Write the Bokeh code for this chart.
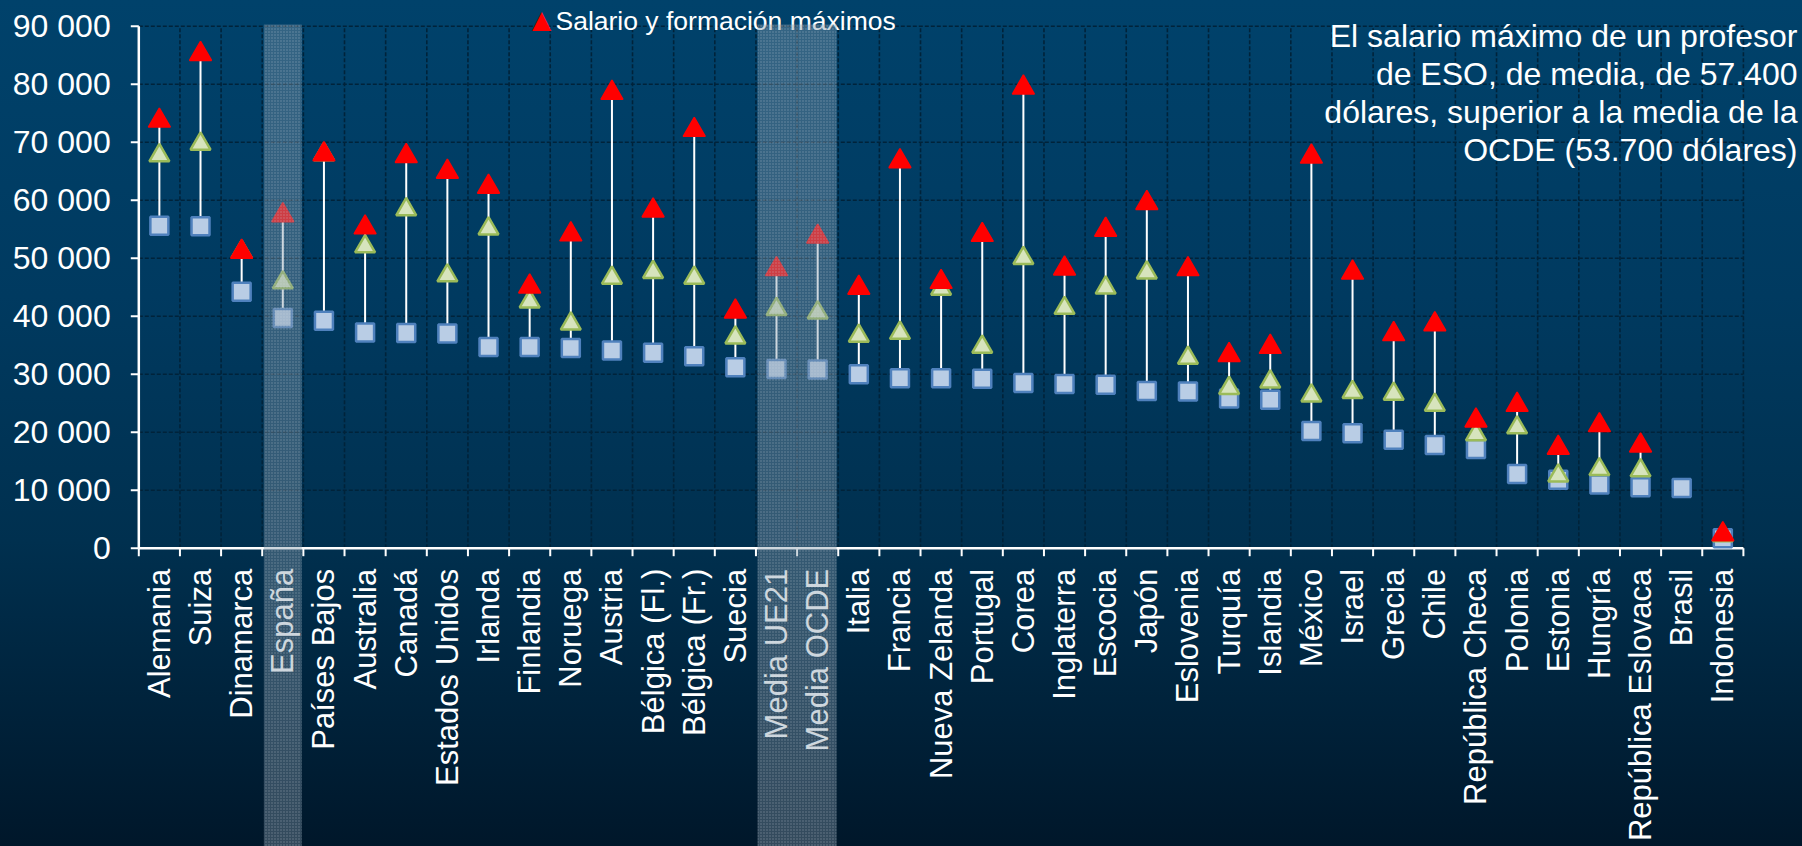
import math
from bokeh.plotting import figure
from bokeh.models import Range1d, BoxAnnotation, GlobalInlineStyleSheet
from bokeh.core.properties import value
from bokeh.embed import file_html
from bokeh.resources import INLINE

# ---------------- data ----------------
countries = ["Alemania", "Suiza", "Dinamarca", "España", "Países Bajos", "Australia",
             "Canadá", "Estados Unidos", "Irlanda", "Finlandia", "Noruega", "Austria",
             "Bélgica (Fl.)", "Bélgica (Fr.)", "Suecia", "Media UE21", "Media OCDE",
             "Italia", "Francia", "Nueva Zelanda", "Portugal", "Corea", "Inglaterra",
             "Escocia", "Japón", "Eslovenia", "Turquía", "Islandia", "México", "Israel",
             "Grecia", "Chile", "República Checa", "Polonia", "Estonia", "Hungría",
             "República Eslovaca", "Brasil", "Indonesia"]
NA = float("nan")
salario_inicial = [55600, 55500, 44200, 39700, 39200, 37200, 37100, 37000, 34700, 34700,
                   34500, 34100, 33700, 33100, 31200, 30900, 30800, 30000, 29300, 29300,
                   29200, 28500, 28300, 28200, 27100, 27000, 25800, 25600, 20200, 19800,
                   18700, 17800, 17100, 12800, 11800, 11000, 10500, 10400, 1700]
salario_15_anos = [67700, 69700, 51100, 45800, 67900, 52000, 58400, 47000, 55100, 42500,
                   38700, 46600, 47600, 46600, 36300, 41200, 40600, 36600, 37100, 44700,
                   34700, 50000, 41400, 44900, 47500, 32800, 27600, 28700, 26300, 26900,
                   26600, 24700, 19600, 20800, 12500, 13600, 13400, NA, 2200]
salario_maximo = [73700, 85200, 51100, 57400, 67900, 55300, 67600, 64900, 62300, 45100,
                  54100, 78500, 58200, 72100, 40800, 48100, 53700, 44900, 66700, 45900,
                  54000, 79400, 48200, 54900, 59500, 48100, 33300, 34700, 67500, 47500,
                  36900, 38600, 22000, 24700, 17300, 21200, 17700, NA, 2400]
highlighted = ["España", "Media UE21", "Media OCDE"]
y_ticks = [0, 10000, 20000, 30000, 40000, 50000, 60000, 70000, 80000, 90000]
y_tick_labels = ["0", "10 000", "20 000", "30 000", "40 000", "50 000", "60 000",
                 "70 000", "80 000", "90 000"]
legend_label = "Salario y formación máximos"
note_lines = ["El salario máximo de un profesor", "de ESO, de media, de 57.400",
              "dólares, superior a la media de la", "OCDE (53.700 dólares)"]

# ---------------- layout (page pixels) ----------------
W, H = 1802, 846
PL, PR, PT, PB = 138.3, 1742.9, 25.7, 547.7     # plot area edges (PT = top value line)
n = len(countries)
YMAX = y_ticks[-1]
UX = (PR - PL) / n            # px per category
UY = (PB - PT) / YMAX         # px per unit
FONT = "Liberation Sans"
GRID = "#00233a"

def xd(px):   # page px -> data x
    return -0.5 + (px - PL) / UX

def yd(py):   # page px -> data y
    return (PB - py) / UY

xs = list(range(n))
bounds = [i - 0.5 for i in range(n + 1)]
tops = []
for b, c in zip(salario_15_anos, salario_maximo):
    vals = [v for v in (b, c) if not math.isnan(v)]
    tops.append(max(vals) if vals else NA)

p = figure(width=W, height=H, output_backend="svg", toolbar_location=None,
           x_range=Range1d(xd(0), xd(W)), y_range=Range1d(yd(H), yd(0)),
           x_axis_type=None, y_axis_type=None,
           min_border_left=0, min_border_right=0, min_border_top=0, min_border_bottom=0)
p.background_fill_color = None
p.border_fill_color = None
p.outline_line_color = None
p.stylesheets = [GlobalInlineStyleSheet(css=(
    "html { min-height: 100%; background-color: #00172a; "
    "background-image: linear-gradient(to bottom, #00426b 0%, #003a60 35%, #00304f 64%, #00172a 100%); "
    "background-repeat: no-repeat; }"
    "body { background: transparent; }"))]

# grid lines (dashed, dark)
p.segment(x0=bounds[1:], y0=[0] * n, x1=bounds[1:], y1=[YMAX] * n,
          line_color=GRID, line_width=1.6, line_dash="4 2")
p.segment(x0=[bounds[0]] * (len(y_ticks) - 1), y0=y_ticks[1:],
          x1=[bounds[-1]] * (len(y_ticks) - 1), y1=y_ticks[1:],
          line_color=GRID, line_width=1.6, line_dash="4 2")

# axes: lines, ticks, labels
tick_len_y = yd(PB + 8)
tick_len_x = xd(PL - 8)
p.segment(x0=bounds, y0=[0] * len(bounds), x1=bounds, y1=[tick_len_y] * len(bounds),
          line_color="white", line_width=2)
p.segment(x0=[bounds[0]] * len(y_ticks), y0=y_ticks, x1=[tick_len_x] * len(y_ticks), y1=y_ticks,
          line_color="white", line_width=2)
p.segment(x0=[bounds[0]], y0=[0], x1=[bounds[-1]], y1=[0], line_color="white", line_width=2.5)
p.segment(x0=[bounds[0]], y0=[0], x1=[bounds[0]], y1=[YMAX], line_color="white", line_width=2.5)

p.text(x=xs, y=[yd(PB + 20.6)] * n, text=countries, angle=math.pi / 2,
       text_align="right", text_baseline="middle", text_color="white",
       text_font=value(FONT), text_font_size="31px")
p.text(x=[xd(110.2)] * len(y_ticks), y=y_ticks, text=y_tick_labels,
       text_align="right", text_baseline="middle", text_color="white",
       text_font=value(FONT), text_font_size="32px")

# data marks
p.segment(x0=xs, y0=salario_inicial, x1=xs, y1=tops, line_color="white", line_width=2)
p.scatter(xs, salario_inicial, marker="square", size=18, fill_color="#b9cde5",
          line_color="#4f81bd", line_width=2.5)
p.scatter(xs, salario_15_anos, marker="triangle", size=20, fill_color="#d7e4bd",
          line_color="#9bbb59", line_width=2.5)
p.scatter(xs, salario_maximo, marker="triangle", size=22, fill_color="#ff0000",
          line_color="#ff0000", line_width=1.5)

# highlighted columns (contiguous runs merged, drawn over marks and labels)
idx = sorted(countries.index(name) for name in highlighted)
runs = []
for i in idx:
    if runs and runs[-1][1] == i - 1:
        runs[-1][1] = i
    else:
        runs.append([i, i])
for i0, i1 in runs:
    p.add_layout(BoxAnnotation(left=i0 - 0.46, right=i1 + 0.46, top=yd(24), bottom=yd(H + 5),
                               fill_color="#8299ab", fill_alpha=0.40,
                               hatch_pattern="dot", hatch_color="#d0dce6", hatch_alpha=0.35,
                               hatch_scale=3, hatch_weight=1,
                               line_color=None, level="overlay"))

# legend entry
p.text(x=[xd(541)], y=[yd(19)], text=["▲"], text_color="#ff0000",
       text_font=value("DejaVu Sans"), text_font_size="25px",
       text_align="center", text_baseline="alphabetic")
p.text(x=[xd(555)], y=[yd(20)], text=[legend_label], text_color="white",
       text_font=value(FONT), text_font_size="26.5px",
       text_align="left", text_baseline="alphabetic")

# note
p.text(x=[xd(1797)] * len(note_lines), y=[yd(35 + 38.3 * k) for k in range(len(note_lines))],
       text=note_lines, text_color="white", text_font=value(FONT), text_font_size="32px",
       text_align="right", text_baseline="alphabetic")

open("out.html", "w").write(file_html(p, INLINE))
